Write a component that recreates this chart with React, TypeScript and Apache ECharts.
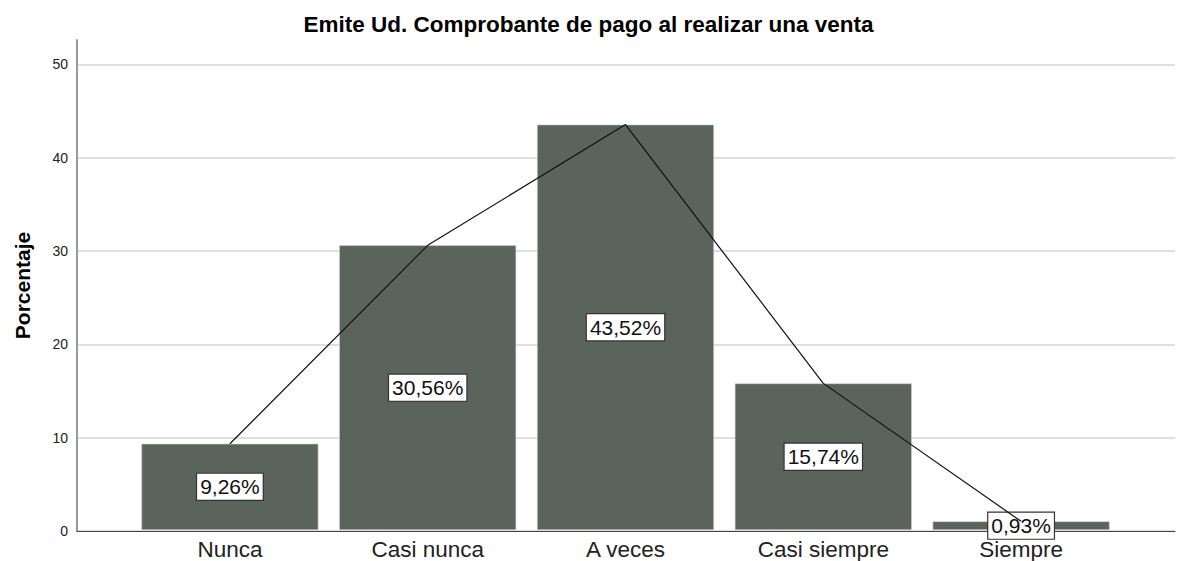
import React, { useEffect, useRef } from "react";
import * as echarts from "echarts";

const categories = ["Nunca", "Casi nunca", "A veces", "Casi siempre", "Siempre"];
const percentages = [9.26, 30.56, 43.52, 15.74, 0.93];
const titleText = "Emite Ud. Comprobante de pago al realizar una venta";
const yAxisTitle = "Porcentaje";

const fmt = (v: number) => v.toFixed(2).replace(".", ",") + "%";

export default function App() {
  const ref = useRef<HTMLDivElement>(null);
  useEffect(() => {
    if (!ref.current) return;
    const chart = echarts.init(ref.current, null, { renderer: "svg" });
    const yMax = 52.6;
    chart.setOption({
      animation: false,
      backgroundColor: "#ffffff",
      textStyle: { fontFamily: "Liberation Sans, Arial, sans-serif" },
      title: {
        text: titleText,
        left: "center",
        top: 8,
        textStyle: { fontSize: 22.5, fontWeight: "bold", color: "#000" },
      },
      grid: [
        { left: 77, right: 2, top: 40, bottom: 30, containLabel: false },
        { left: 131, right: 57, top: 40, bottom: 30, containLabel: false },
      ],
      xAxis: [
        {
          gridIndex: 0,
          type: "value",
          min: 0,
          max: 1,
          axisLine: { show: true, onZero: false, lineStyle: { color: "#444", width: 1 } },
          axisTick: { show: false },
          axisLabel: { show: false },
          splitLine: { show: false },
        },
        {
          gridIndex: 1,
          type: "category",
          data: categories,
          axisLine: { show: false },
          axisTick: { show: false },
          axisLabel: { color: "#222", fontSize: 22.5, margin: 8 },
        },
      ],
      yAxis: [
        {
          gridIndex: 0,
          type: "value",
          min: 0,
          max: yMax,
          interval: 10,
          name: yAxisTitle,
          nameLocation: "middle",
          nameRotate: 90,
          nameGap: 44,
          nameTextStyle: { fontSize: 21, fontWeight: "bold", color: "#000" },
          axisLine: { show: true, lineStyle: { color: "#999", width: 2 } },
          axisTick: { show: false },
          axisLabel: {
            color: "#222",
            fontSize: 14,
            margin: 9,
            showMaxLabel: false,
            formatter: (v: number) => (v % 10 === 0 ? String(v) : ""),
          },
          splitLine: { show: true, showMaxLine: false, lineStyle: { color: "#d4d4d4", width: 1.5 } },
        },
        {
          gridIndex: 1,
          type: "value",
          min: 0,
          max: yMax,
          show: false,
          splitLine: { show: false },
        },
      ],
      series: [
        {
          type: "bar",
          xAxisIndex: 1,
          yAxisIndex: 1,
          data: percentages,
          barWidth: 177,
          itemStyle: { color: "#5A635C", borderColor: "#d0d4d0", borderWidth: 0.6 },
          label: {
            show: true,
            position: "inside",
            formatter: (p: any) => fmt(p.value),
            color: "#111",
            fontSize: 21,
            backgroundColor: "#ffffff",
            borderColor: "#333",
            borderWidth: 1.2,
            padding: [3, 3, 2, 3],
          },
          z: 2,
        },
        {
          type: "line",
          xAxisIndex: 1,
          yAxisIndex: 1,
          data: percentages,
          symbol: "none",
          lineStyle: { color: "#111", width: 1.2 },
          z: 3,
        },
      ],
    });
    return () => chart.dispose();
  }, []);
  return (
    <div
      ref={ref}
      style={{ position: "fixed", left: 0, top: 0, width: 1177, height: 561 }}
    />
  );
}
